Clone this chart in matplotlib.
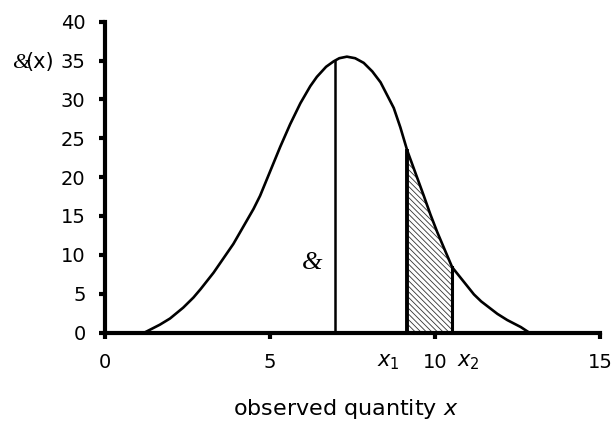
import numpy as np
import matplotlib
matplotlib.use("Agg")
import matplotlib.pyplot as plt

plt.rcParams["font.family"] = "DejaVu Sans"
plt.rcParams["mathtext.fontset"] = "dejavusans"
plt.rcParams["hatch.linewidth"] = 0.6

# curve
curve_x = [1.2, 1.66, 1.97, 2.37, 2.68, 2.9, 3.29, 3.89, 4.50, 4.70, 5.31,
           5.61, 5.92, 6.22, 6.42, 6.7, 6.93, 7.1, 7.33, 7.58, 7.84, 8.1,
           8.35, 8.75, 8.95, 9.16, 9.66, 9.86, 10.07, 10.52, 11.18, 11.4,
           11.89, 12.19, 12.6, 12.85]
curve_y = [0.0, 1.0, 1.8, 3.2, 4.5, 5.6, 7.7, 11.4, 15.9, 17.6, 23.9,
           26.8, 29.5, 31.7, 32.9, 34.2, 34.9, 35.3, 35.5, 35.3, 34.7, 33.6,
           32.2, 28.9, 26.4, 23.4, 17.6, 15.2, 12.9, 8.4, 4.9, 4.0,
           2.4, 1.6, 0.7, 0.0]

mean_x, mean_top = 6.98, 35.0
x1, x2 = 9.16, 10.52
shade_x = [9.16, 9.66, 9.86, 10.07, 10.52]
shade_y = [23.4, 17.6, 15.2, 12.9, 8.4]

xticks = [0, 5, 10, 15]
yticks = [0, 5, 10, 15, 20, 25, 30, 35, 40]

fig = plt.figure(figsize=(6.13, 4.23), dpi=100)
ax = fig.add_axes([105 / 613, 1 - 332.5 / 423, 495 / 613, 310.8 / 423])
ax.set_xlim(0, 15)
ax.set_ylim(0, 40)

ax.fill_between(shade_x, 0, shade_y, facecolor="white", edgecolor="#333333",
                hatch="\\\\\\\\\\\\", linewidth=0)
ax.plot(curve_x, curve_y, color="black", lw=1.9, solid_joinstyle="round",
        solid_capstyle="round")
ax.plot([mean_x, mean_x], [0, mean_top], color="black", lw=1.8)
ax.plot([x1, x1], [0, shade_y[0]], color="black", lw=2.8)
ax.plot([x2, x2], [0, shade_y[-1]], color="black", lw=2.2)

for side in ["top", "right"]:
    ax.spines[side].set_visible(False)
for side in ["left", "bottom"]:
    ax.spines[side].set_linewidth(3)
ax.set_xticks(xticks)
ax.set_yticks(yticks)
ax.tick_params(axis="both", width=3, length=4, labelsize=14, color="black")
ax.tick_params(axis="x", pad=11)
ax.tick_params(axis="y", pad=10)

ax.text(8.6, -2.45, "$x_1$", fontsize=15, ha="center", va="top",
        clip_on=False)
ax.text(11.0, -2.45, "$x_2$", fontsize=15, ha="center", va="top",
        clip_on=False)
ax.text(6.27, 8.9, "&", fontsize=19, style="italic", family="Liberation Serif",
        ha="center", va="center")

fig.text(21 / 613, 1 - 64 / 423, "&", fontsize=16, style="italic",
         family="Liberation Serif", ha="center", va="center")
fig.text(25 / 613, 1 - 62 / 423, "(x)", fontsize=15, ha="left", va="center")

fig.text(346 / 613, 1 - 409 / 423, "observed quantity $x$", fontsize=16,
         ha="center", va="center")

fig.savefig("out.png", dpi=100)
